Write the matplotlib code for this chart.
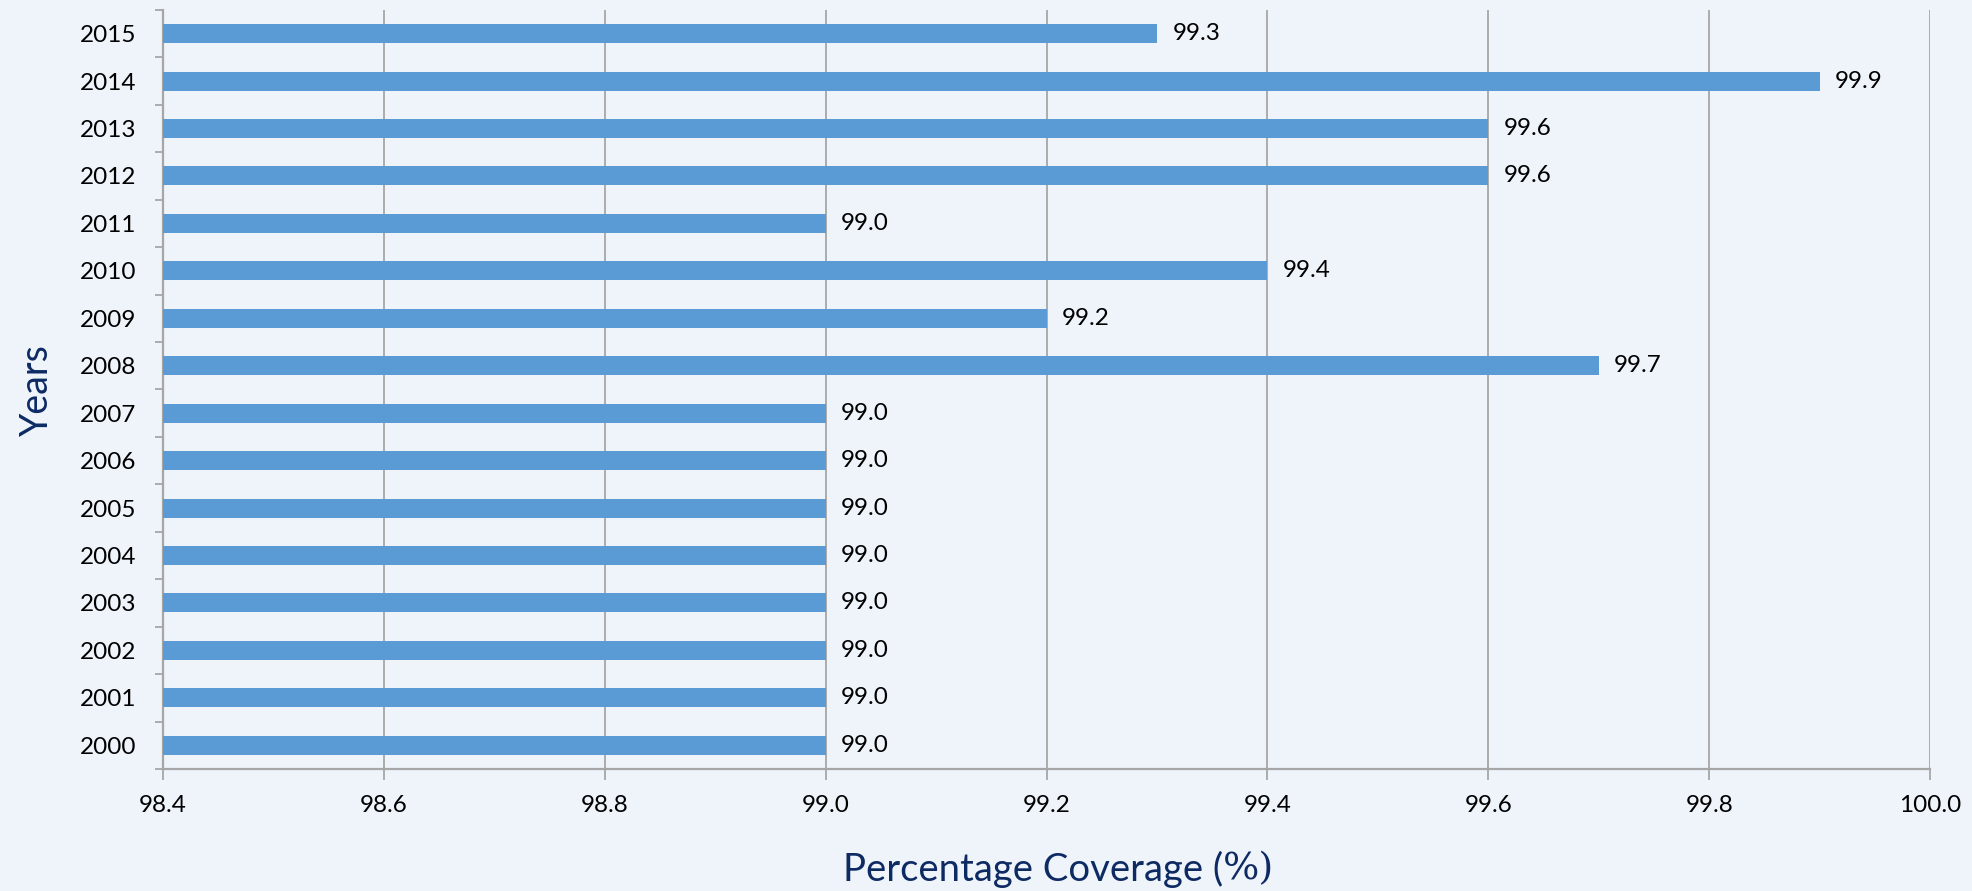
import matplotlib
matplotlib.use("Agg")
import matplotlib.pyplot as plt
import numpy as np

years = ["2000", "2001", "2002", "2003", "2004", "2005", "2006", "2007",
         "2008", "2009", "2010", "2011", "2012", "2013", "2014", "2015"]
coverage = [99.0, 99.0, 99.0, 99.0, 99.0, 99.0, 99.0, 99.0,
            99.7, 99.2, 99.4, 99.0, 99.6, 99.6, 99.9, 99.3]
x_ticks = [98.4, 98.6, 98.8, 99.0, 99.2, 99.4, 99.6, 99.8, 100.0]

BG = "#EFF4FB"
BAR = "#5B9BD5"
GRID = "#A6A6A6"
NAVY = "#0E2A63"

plt.rcParams['font.family'] = ['Lato', 'DejaVu Sans']

fig = plt.figure(figsize=(19.72, 8.91), dpi=100, facecolor=BG)
ax = fig.add_axes([0.0827, 0.1369, 0.896, 0.852])
ax.set_facecolor(BG)

xmin, xmax = x_ticks[0], x_ticks[-1]
pos = np.arange(len(years))
widths = [v - xmin for v in coverage]
ax.barh(pos, widths, left=xmin, height=0.4, color=BAR, zorder=3)

for p, v in zip(pos, coverage):
    ax.annotate(f"{v:.1f}", xy=(v, p), xytext=(11, 0), textcoords="offset points",
                va="center", ha="left", fontsize=17.5, color="black")

ax.set_xlim(xmin, xmax)
ax.set_ylim(-0.5, len(years) - 0.5)
ax.set_xticks(x_ticks)
ax.set_xticklabels([f"{t:.1f}" for t in x_ticks], fontsize=17.5)
ax.set_yticks(pos)
ax.set_yticklabels(years, fontsize=17.5)
ax.set_yticks(np.arange(-0.5, len(years)), minor=True)
ax.tick_params(axis="y", which="major", length=0, pad=19)
ax.tick_params(axis="y", which="minor", length=6, color=GRID, width=1.3)
ax.tick_params(axis="x", which="major", length=8, color=GRID, width=1.3, pad=11)

ax.grid(axis="x", color=GRID, linewidth=1.3, zorder=0)
for s in ["top", "right"]:
    ax.spines[s].set_visible(False)
for s in ["left", "bottom"]:
    ax.spines[s].set_color(GRID)
    ax.spines[s].set_linewidth(1.6)

fig.text(0.019, 0.5626, "Years", rotation=90, va="center", ha="center",
         fontsize=27, color=NAVY)
fig.text(0.620, 0.024, "Percentage Coverage (", va="center", ha="right",
         fontsize=27.5, color=NAVY)
fig.text(0.620, 0.024, "%)", va="center", ha="left",
         fontsize=27.5, color=NAVY, family="DejaVu Serif")

fig.savefig("out.png", dpi=100, facecolor=BG)
